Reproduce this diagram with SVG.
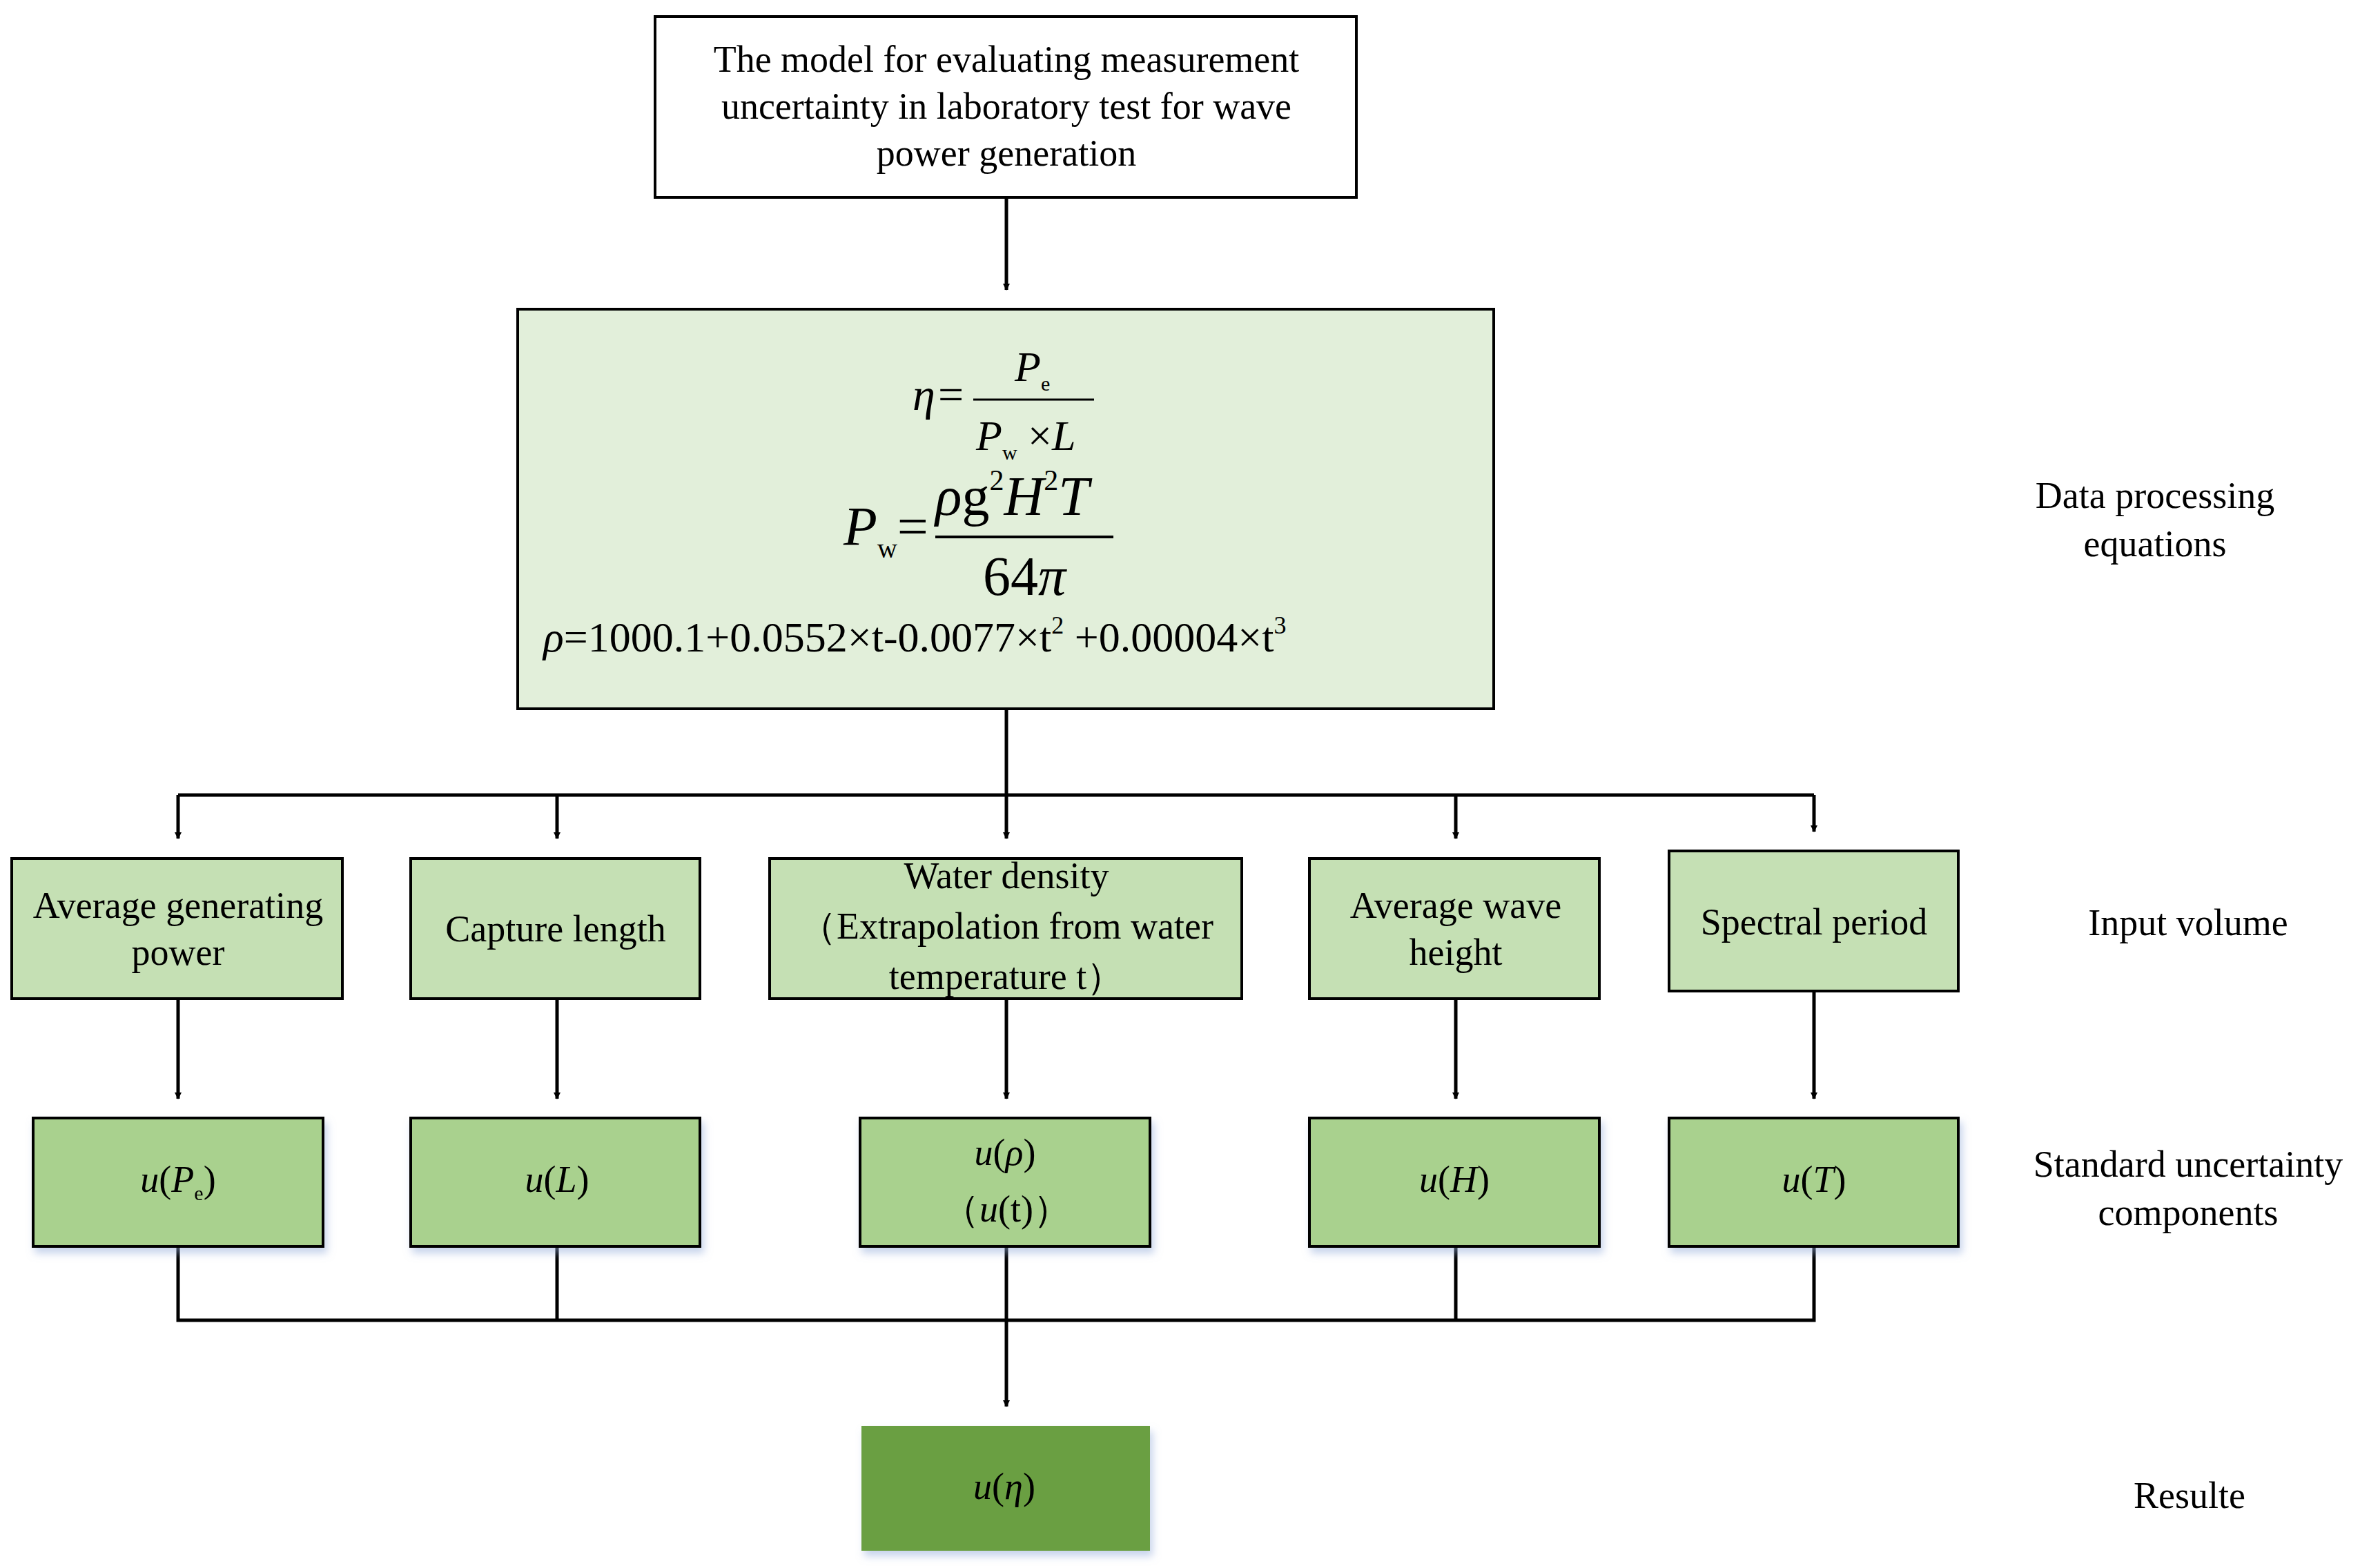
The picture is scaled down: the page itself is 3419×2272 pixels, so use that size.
<svg xmlns="http://www.w3.org/2000/svg" width="3419" height="2272" viewBox="0 0 3419 2272">
<defs>
<marker id="ah" markerWidth="10" markerHeight="10" refX="9" refY="5" orient="auto" markerUnits="userSpaceOnUse" viewBox="0 0 10 10"><path d="M0,0 L10,5 L0,10 z" fill="#000"/></marker>
<filter id="sh" x="-10%" y="-10%" width="130%" height="130%"><feDropShadow dx="4" dy="8" stdDeviation="6" flood-color="#8fa8d8" flood-opacity="0.5"/></filter>
<style>
text{font-family:"Liberation Serif","Times New Roman",serif;fill:#000}
.t{font-size:54px;text-anchor:middle}
.m{font-style:italic}
.b{stroke:#000;stroke-width:4}
.c{fill:none;stroke:#000;stroke-width:5}
</style>
</defs>
<rect width="3419" height="2272" fill="#fff"/>
<g id="connectors">
<path class="c" d="M1458 286V420" marker-end="url(#ah)"/>
<path class="c" d="M1458 1027V1152M258 1152H2628"/>
<path class="c" d="M258 1152V1215" marker-end="url(#ah)"/>
<path class="c" d="M807 1152V1215" marker-end="url(#ah)"/>
<path class="c" d="M1458 1152V1215" marker-end="url(#ah)"/>
<path class="c" d="M2109 1152V1215" marker-end="url(#ah)"/>
<path class="c" d="M2628 1152V1205" marker-end="url(#ah)"/>
<path class="c" d="M258 1447V1592" marker-end="url(#ah)"/>
<path class="c" d="M807 1447V1592" marker-end="url(#ah)"/>
<path class="c" d="M1458 1447V1592" marker-end="url(#ah)"/>
<path class="c" d="M2109 1447V1592" marker-end="url(#ah)"/>
<path class="c" d="M2628 1436V1592" marker-end="url(#ah)"/>
<path class="c" d="M258 1806V1913H2628V1806M807 1806V1913M2109 1806V1913"/>
<path class="c" d="M1458 1806V2038" marker-end="url(#ah)"/>
</g>
<g id="top"><rect class="b" x="949" y="24" width="1016" height="262" fill="#fff"/>
<text class="t" x="1458" y="104">The model for evaluating measurement</text>
<text class="t" x="1458" y="172">uncertainty in laboratory test for wave</text>
<text class="t" x="1458" y="240">power generation</text></g>
<g id="equations"><rect class="b" x="750" y="448" width="1414" height="579" fill="#e2efda"/>
<text x="1322" y="594" font-size="66" class="m">η=</text>
<text x="1470" y="552" font-size="62" class="m">P<tspan font-size="30" font-style="normal" dy="14">e</tspan></text>
<line x1="1410" y1="579" x2="1585" y2="579" stroke="#000" stroke-width="3"/>
<text x="1414" y="652" font-size="62" class="m">P<tspan font-size="30" font-style="normal" dy="14">w</tspan><tspan dy="-14" font-style="normal"> ×</tspan><tspan>L</tspan></text>
<text x="1222" y="790" font-size="80" class="m">P<tspan font-size="40" font-style="normal" dy="18">w</tspan><tspan font-style="normal" dy="-18">=</tspan></text>
<text x="1355" y="746" font-size="80" class="m">ρ<tspan font-style="normal">g</tspan><tspan font-style="normal" font-size="42" dy="-36">2</tspan><tspan dy="36">H</tspan><tspan font-style="normal" font-size="42" dy="-36">2</tspan><tspan dy="36">T</tspan></text>
<line x1="1355" y1="778" x2="1613" y2="778" stroke="#000" stroke-width="4"/>
<text x="1484" y="862" font-size="80" text-anchor="middle">64<tspan class="m">π</tspan></text>
<text x="787" y="944" font-size="62"><tspan class="m">ρ</tspan>=1000.1+0.0552×t-0.0077×t<tspan font-size="36" dy="-26">2</tspan><tspan dy="26"> +0.00004×t</tspan><tspan font-size="36" dy="-26">3</tspan></text>
</g>
<g id="in1"><rect class="b" x="17" y="1244" width="479" height="203" fill="#c5e0b4"/><text class="t" x="258" y="1330">Average generating</text><text class="t" x="258" y="1398">power</text></g>
<g id="in2"><rect class="b" x="595" y="1244" width="419" height="203" fill="#c5e0b4"/><text class="t" x="805" y="1364">Capture length</text></g>
<g id="in3"><rect class="b" x="1115" y="1244" width="684" height="203" fill="#c5e0b4"/><text class="t" x="1458" y="1287">Water density</text><text class="t" x="1458" y="1360">（Extrapolation from water</text><text class="t" x="1458" y="1433">temperature t）</text></g>
<g id="in4"><rect class="b" x="1897" y="1244" width="420" height="203" fill="#c5e0b4"/><text class="t" x="2109" y="1330">Average wave</text><text class="t" x="2109" y="1398">height</text></g>
<g id="in5"><rect class="b" x="2418" y="1233" width="419" height="203" fill="#c5e0b4"/><text class="t" x="2628" y="1354">Spectral period</text></g>
<g id="u1" filter="url(#sh)"><rect class="b" x="48" y="1620" width="420" height="186" fill="#a9d18e"/><text class="t" x="258" y="1727" font-size="62"><tspan class="m">u</tspan>(<tspan class="m">P</tspan><tspan font-size="30" dy="12">e</tspan><tspan dy="-12">)</tspan></text></g>
<g id="u2" filter="url(#sh)"><rect class="b" x="595" y="1620" width="419" height="186" fill="#a9d18e"/><text class="t" x="807" y="1727" font-size="62"><tspan class="m">u</tspan>(<tspan class="m">L</tspan>)</text></g>
<g id="u3" filter="url(#sh)"><rect class="b" x="1246" y="1620" width="420" height="186" fill="#a9d18e"/><text class="t" x="1456" y="1688" font-size="62"><tspan class="m">u</tspan>(<tspan class="m">ρ</tspan>)</text><text class="t" x="1458" y="1770" font-size="56">（<tspan class="m">u</tspan>(t)）</text></g>
<g id="u4" filter="url(#sh)"><rect class="b" x="1897" y="1620" width="420" height="186" fill="#a9d18e"/><text class="t" x="2107" y="1727" font-size="62"><tspan class="m">u</tspan>(<tspan class="m">H</tspan>)</text></g>
<g id="u5" filter="url(#sh)"><rect class="b" x="2418" y="1620" width="419" height="186" fill="#a9d18e"/><text class="t" x="2628" y="1727" font-size="62"><tspan class="m">u</tspan>(<tspan class="m">T</tspan>)</text></g>
<g id="res" filter="url(#sh)"><rect x="1248" y="2066" width="418" height="181" fill="#6a9f42"/><text class="t" x="1455" y="2172" font-size="62"><tspan class="m">u</tspan>(<tspan class="m">η</tspan>)</text></g>
<g id="labels">
<text class="t" x="3122" y="736">Data processing</text><text class="t" x="3122" y="806">equations</text>
<text class="t" x="3170" y="1355">Input volume</text>
<text class="t" x="3170" y="1705">Standard uncertainty</text><text class="t" x="3170" y="1775">components</text>
<text class="t" x="3172" y="2185">Resulte</text>
</g>
</svg>
